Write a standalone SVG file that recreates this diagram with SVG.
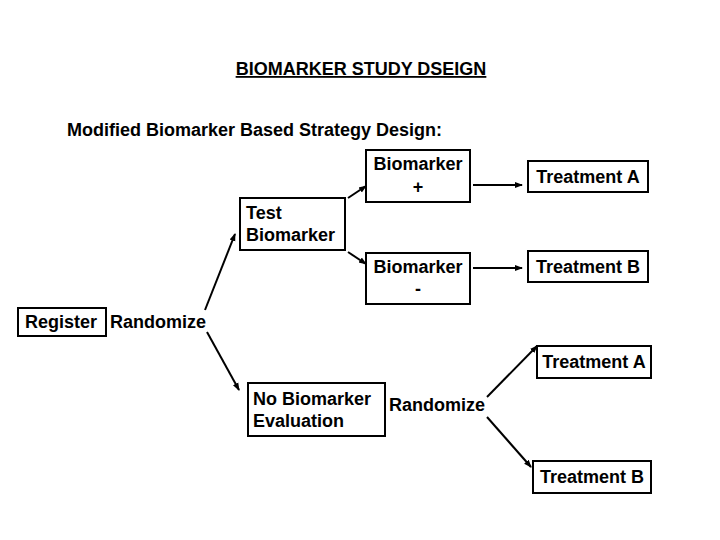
<svg xmlns="http://www.w3.org/2000/svg" width="720" height="540" viewBox="0 0 720 540">
<style>
text{font-family:"Liberation Sans",Arial,sans-serif;font-weight:bold;font-size:18px;fill:#000}
rect{fill:#fff;stroke:#000;stroke-width:2}
.c line{stroke:#000;stroke-width:2;marker-end:url(#a)}
</style>
<defs><marker id="a" markerWidth="8" markerHeight="8" refX="7" refY="4" orient="auto" markerUnits="userSpaceOnUse"><path d="M0,1 L8,4 L0,7Z" fill="#000"/></marker></defs>
<rect width="720" height="540" style="stroke:none"/>
<text x="361" y="75" text-anchor="middle" text-decoration="underline">BIOMARKER STUDY DSEIGN</text>
<text x="67" y="136">Modified Biomarker Based Strategy Design:</text>
<g id="register"><rect x="18" y="308" width="88" height="28"/><text x="25" y="328">Register</text></g>
<g id="randomize1"><text x="110" y="328">Randomize</text></g>
<g id="test"><rect x="240" y="198" width="105" height="52"/><text x="246" y="219">Test</text><text x="246" y="241">Biomarker</text></g>
<g id="bplus"><rect x="366" y="150" width="104" height="52"/><text x="418" y="170" text-anchor="middle">Biomarker</text><text x="418" y="193" text-anchor="middle">+</text></g>
<g id="bminus"><rect x="366" y="253" width="104" height="51"/><text x="418" y="273" text-anchor="middle">Biomarker</text><text x="418" y="295" text-anchor="middle">-</text></g>
<g id="ta1"><rect x="528" y="161" width="120" height="31"/><text x="588" y="183" text-anchor="middle">Treatment A</text></g>
<g id="tb1"><rect x="528" y="251" width="120" height="31"/><text x="588" y="273" text-anchor="middle">Treatment B</text></g>
<g id="nobio"><rect x="248" y="383" width="137" height="53"/><text x="253" y="405">No Biomarker</text><text x="253" y="427">Evaluation</text></g>
<g id="randomize2"><text x="389" y="411">Randomize</text></g>
<g id="ta2"><rect x="537" y="346" width="114" height="32"/><text x="594" y="368" text-anchor="middle">Treatment A</text></g>
<g id="tb2"><rect x="533" y="461" width="118" height="32"/><text x="592" y="483" text-anchor="middle">Treatment B</text></g>
<g class="c">
<line x1="205" y1="310" x2="235" y2="234"/>
<line x1="207" y1="332" x2="239" y2="390"/>
<line x1="348" y1="198" x2="366" y2="186"/>
<line x1="348" y1="252" x2="366" y2="264"/>
<line x1="473" y1="185" x2="522" y2="185"/>
<line x1="473" y1="268" x2="522" y2="268"/>
<line x1="487" y1="397" x2="537" y2="346"/>
<line x1="487" y1="417" x2="531" y2="467"/>
</g>
</svg>
